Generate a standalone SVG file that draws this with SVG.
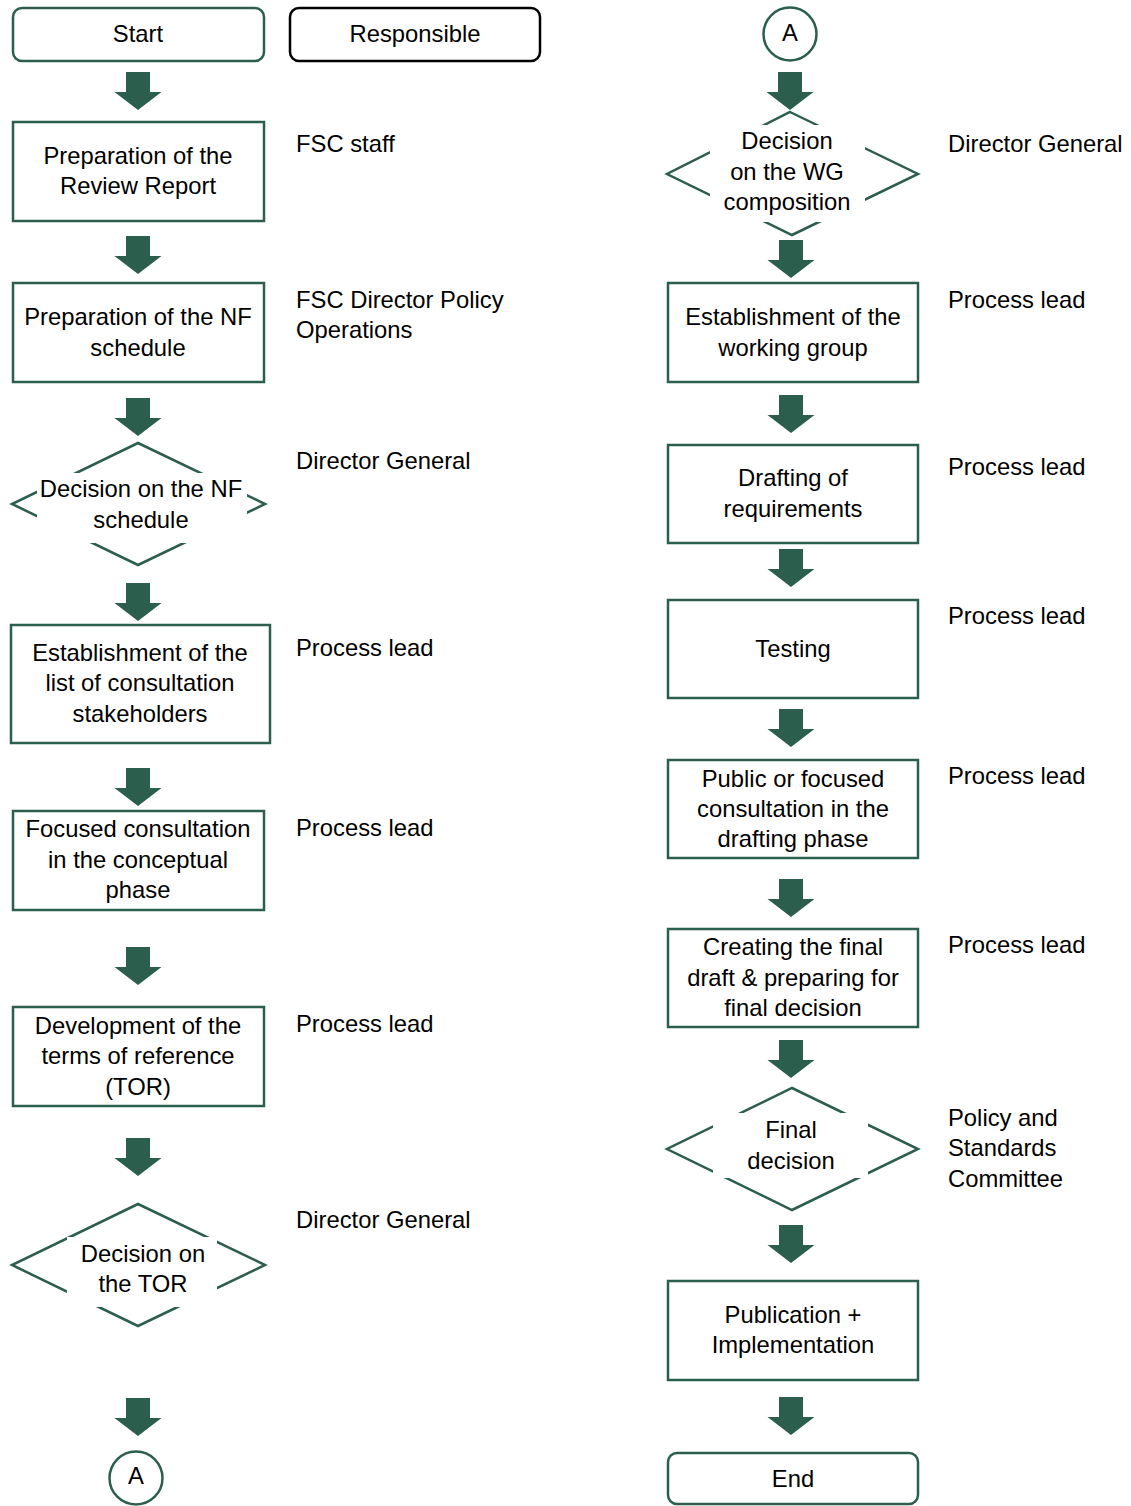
<svg xmlns="http://www.w3.org/2000/svg" xmlns:xlink="http://www.w3.org/1999/xlink" width="1131" height="1506" viewBox="0 0 1131 1506">
<style>
text{font-family:"Liberation Sans",Arial,sans-serif;font-size:23.8px;fill:#000}
.c{text-anchor:middle}
.box{fill:#fff;stroke:#2b5e4d;stroke-width:2.5}
.dia{fill:#fff;stroke:#2b5e4d;stroke-width:2.5}
.mask{fill:#fff;stroke:none}
.arr{fill:#2b5e4d}
</style>
<defs>
<path id="arrow" d="M-12,0 H12 V20 H23.5 L0,38 L-23.5,20 H-12 Z"/>
</defs>
<rect x="0" y="0" width="1131" height="1506" fill="#fff"/>

<g id="connectors" class="arr">
<use xlink:href="#arrow" x="138" y="72"/>
<use xlink:href="#arrow" x="138" y="236"/>
<use xlink:href="#arrow" x="138" y="398"/>
<use xlink:href="#arrow" x="138" y="583"/>
<use xlink:href="#arrow" x="138" y="768"/>
<use xlink:href="#arrow" x="138" y="947"/>
<use xlink:href="#arrow" x="138" y="1138"/>
<use xlink:href="#arrow" x="138" y="1398"/>
<use xlink:href="#arrow" x="790" y="72"/>
<use xlink:href="#arrow" x="791" y="240"/>
<use xlink:href="#arrow" x="791" y="395"/>
<use xlink:href="#arrow" x="791" y="549"/>
<use xlink:href="#arrow" x="791" y="709"/>
<use xlink:href="#arrow" x="791" y="879"/>
<use xlink:href="#arrow" x="791" y="1040"/>
<use xlink:href="#arrow" x="791" y="1225"/>
<use xlink:href="#arrow" x="791" y="1397"/>
</g>

<g id="start">
<rect class="box" x="13" y="8" width="251" height="53" rx="9"/>
<text class="c" x="138" y="42">Start</text>
</g>
<g id="responsible">
<rect x="290" y="8" width="250" height="53" rx="9" fill="#fff" stroke="#000" stroke-width="2.5"/>
<text class="c" x="415" y="42">Responsible</text>
</g>

<g id="review-report">
<rect class="box" x="13" y="122" width="251" height="99"/>
<text class="c" x="138" y="164">Preparation of the</text>
<text class="c" x="138" y="194">Review Report</text>
</g>
<g id="nf-schedule">
<rect class="box" x="13" y="283" width="251" height="99"/>
<text class="c" x="138" y="325">Preparation of the NF</text>
<text class="c" x="138" y="356">schedule</text>
</g>
<g id="decision-nf">
<polygon class="dia" points="138,443 265,504 138,565 12,504"/>
<rect class="mask" x="37" y="473" width="210" height="70"/>
<text class="c" x="141" y="497">Decision on the NF</text>
<text class="c" x="141" y="528">schedule</text>
</g>
<g id="stakeholders">
<rect class="box" x="11" y="625" width="259" height="118"/>
<text class="c" x="140" y="661">Establishment of the</text>
<text class="c" x="140" y="691">list of consultation</text>
<text class="c" x="140" y="722">stakeholders</text>
</g>
<g id="focused-consultation">
<rect class="box" x="13" y="811" width="251" height="99"/>
<text class="c" x="138" y="837">Focused consultation</text>
<text class="c" x="138" y="868">in the conceptual</text>
<text class="c" x="138" y="898">phase</text>
</g>
<g id="tor">
<rect class="box" x="13" y="1007" width="251" height="99"/>
<text class="c" x="138" y="1034">Development of the</text>
<text class="c" x="138" y="1064">terms of reference</text>
<text class="c" x="138" y="1095">(TOR)</text>
</g>
<g id="decision-tor">
<polygon class="dia" points="138,1204 265,1265 138,1326 12,1265"/>
<rect class="mask" x="67" y="1237" width="150" height="70"/>
<text class="c" x="143" y="1262">Decision on</text>
<text class="c" x="143" y="1292">the TOR</text>
</g>
<g id="connector-a-out">
<circle cx="136" cy="1478" r="26.5" fill="#fff" stroke="#2b5e4d" stroke-width="2.5"/>
<text class="c" x="136" y="1484">A</text>
</g>

<g id="responsible-left">
<text x="296" y="152">FSC staff</text>
<text x="296" y="308">FSC Director Policy</text>
<text x="296" y="338">Operations</text>
<text x="296" y="469">Director General</text>
<text x="296" y="656">Process lead</text>
<text x="296" y="836">Process lead</text>
<text x="296" y="1032">Process lead</text>
<text x="296" y="1228">Director General</text>
</g>

<g id="connector-a-in">
<circle cx="790" cy="34" r="26.5" fill="#fff" stroke="#2b5e4d" stroke-width="2.5"/>
<text class="c" x="790" y="41">A</text>
</g>
<g id="decision-wg">
<polygon class="dia" points="790,112 918,174 792,235 667,174"/>
<rect class="mask" x="710" y="125" width="155" height="97"/>
<text class="c" x="787" y="149">Decision</text>
<text class="c" x="787" y="180">on the WG</text>
<text class="c" x="787" y="210">composition</text>
</g>
<g id="working-group">
<rect class="box" x="668" y="283" width="250" height="99"/>
<text class="c" x="793" y="325">Establishment of the</text>
<text class="c" x="793" y="356">working group</text>
</g>
<g id="drafting">
<rect class="box" x="668" y="445" width="250" height="98"/>
<text class="c" x="793" y="486">Drafting of</text>
<text class="c" x="793" y="517">requirements</text>
</g>
<g id="testing">
<rect class="box" x="668" y="600" width="250" height="98"/>
<text class="c" x="793" y="657">Testing</text>
</g>
<g id="public-consultation">
<rect class="box" x="668" y="760" width="250" height="98"/>
<text class="c" x="793" y="787">Public or focused</text>
<text class="c" x="793" y="817">consultation in the</text>
<text class="c" x="793" y="847">drafting phase</text>
</g>
<g id="final-draft">
<rect class="box" x="668" y="929" width="250" height="98"/>
<text class="c" x="793" y="955">Creating the final</text>
<text class="c" x="793" y="986">draft &amp; preparing for</text>
<text class="c" x="793" y="1016">final decision</text>
</g>
<g id="final-decision">
<polygon class="dia" points="792,1088 918,1149 792,1210 667,1149"/>
<rect class="mask" x="713" y="1113" width="155" height="65"/>
<text class="c" x="791" y="1138">Final</text>
<text class="c" x="791" y="1169">decision</text>
</g>
<g id="publication">
<rect class="box" x="668" y="1281" width="250" height="99"/>
<text class="c" x="793" y="1323">Publication +</text>
<text class="c" x="793" y="1353">Implementation</text>
</g>
<g id="end">
<rect class="box" x="668" y="1453" width="250" height="51" rx="9"/>
<text class="c" x="793" y="1487">End</text>
</g>

<g id="responsible-right">
<text x="948" y="152">Director General</text>
<text x="948" y="308">Process lead</text>
<text x="948" y="475">Process lead</text>
<text x="948" y="624">Process lead</text>
<text x="948" y="784">Process lead</text>
<text x="948" y="953">Process lead</text>
<text x="948" y="1126">Policy and</text>
<text x="948" y="1156">Standards</text>
<text x="948" y="1187">Committee</text>
</g>
</svg>
